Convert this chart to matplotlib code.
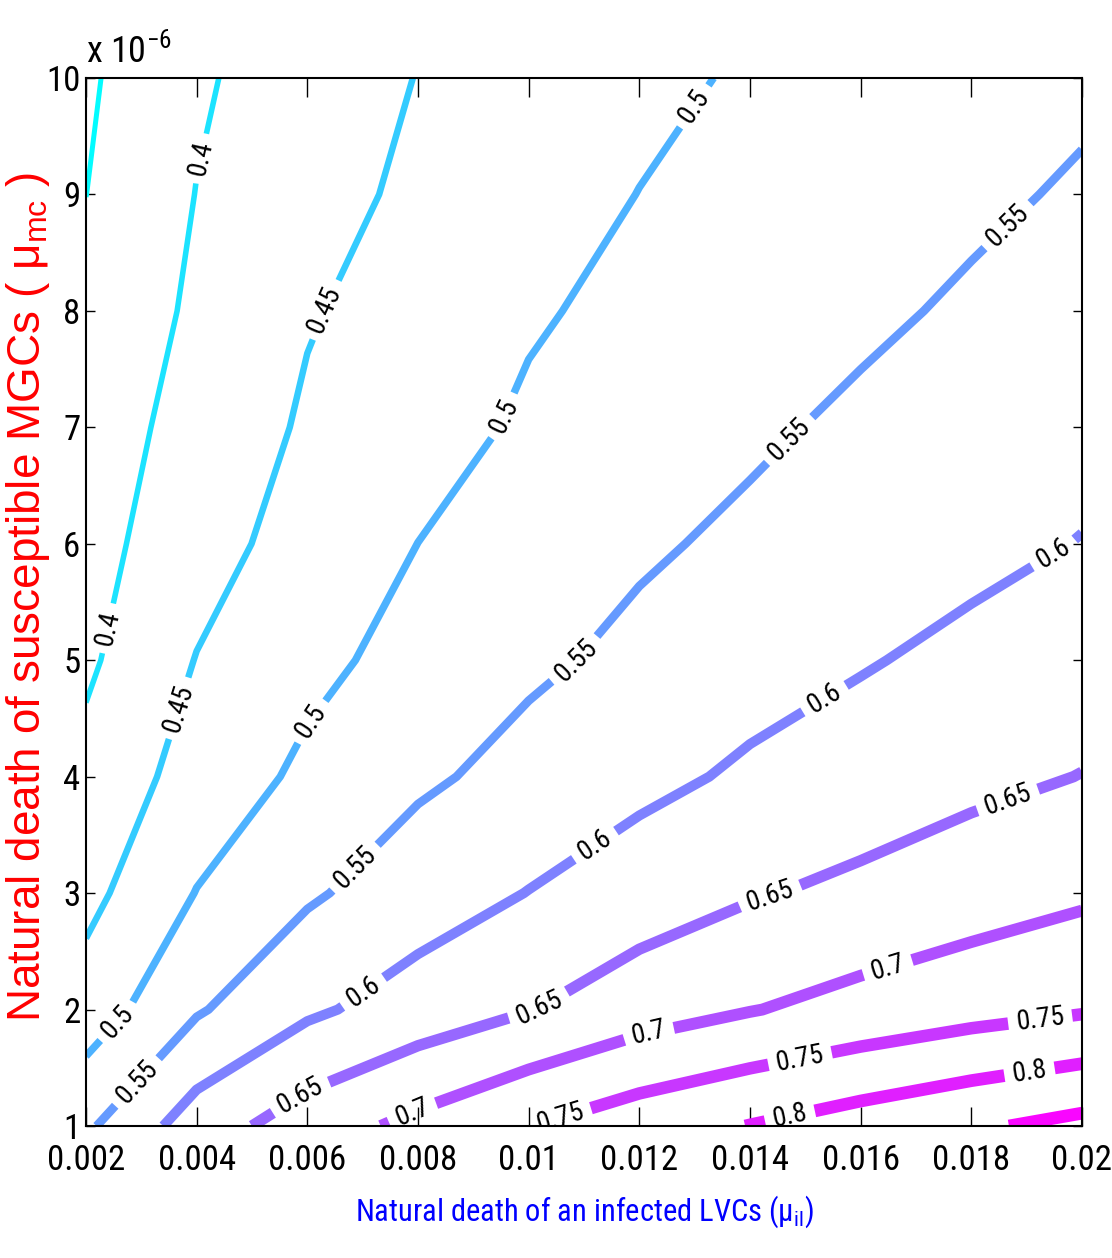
import matplotlib
matplotlib.use('Agg')
import matplotlib.pyplot as plt
from matplotlib.ticker import FuncFormatter
import numpy as np

narrow = ['Roboto Condensed', 'Liberation Sans Narrow', 'DejaVu Sans Condensed',
          'Open Sans Condensed', 'Liberation Sans', 'DejaVu Sans']
plt.rcParams['font.family'] = narrow
plt.rcParams['font.stretch'] = 'condensed'
plt.rcParams['mathtext.fontset'] = 'custom'
plt.rcParams['mathtext.rm'] = narrow[0]

# natural death of an infected LVC (x axis)
mu_il = [0.002, 0.004, 0.006, 0.008, 0.010, 0.012, 0.014, 0.016, 0.018, 0.020]
# natural death of susceptible MGCs (y axis)
mu_mc = [1e-6, 2e-6, 3e-6, 4e-6, 5e-6, 6e-6, 7e-6, 8e-6, 9e-6, 10e-6]

# one row per mu_mc value, one column per mu_il value
z_mc1 = [0.542, 0.625, 0.675, 0.7127, 0.749, 0.778, 0.801, 0.823, 0.8433, 0.863]
z_mc2 = [0.472, 0.545, 0.5917, 0.6218, 0.648, 0.678, 0.698, 0.716, 0.7322, 0.7453]
z_mc3 = [0.436, 0.5015, 0.5434, 0.576, 0.6011, 0.624, 0.6458, 0.661, 0.6767, 0.692]
z_mc4 = [0.414, 0.470, 0.5097, 0.542, 0.565, 0.588, 0.607, 0.6215, 0.638, 0.651]
z_mc5 = [0.392, 0.4516, 0.4877, 0.516, 0.542, 0.5605, 0.582, 0.5965, 0.6113, 0.6255]
z_mc6 = [0.382, 0.4312, 0.4691, 0.5002, 0.5207, 0.544, 0.5584, 0.573, 0.588, 0.6015]
z_mc7 = [0.375, 0.4176, 0.4561, 0.4827, 0.5063, 0.5242, 0.543, 0.5579, 0.572, 0.585]
z_mc8 = [0.364, 0.4077, 0.4465, 0.4694, 0.4955, 0.5102, 0.5258, 0.542, 0.556, 0.5695]
z_mc9 = [0.3497, 0.401, 0.4326, 0.4594, 0.4802, 0.5007, 0.5143, 0.528, 0.542, 0.555]
z_mc10 = [0.343, 0.3942, 0.4231, 0.4513, 0.4697, 0.489, 0.5054, 0.521, 0.534, 0.542]

levels = [0.35, 0.40, 0.45, 0.50, 0.55, 0.60, 0.65, 0.70, 0.75, 0.80, 0.85]

# where the inline labels go (mu_il, mu_mc in units of 1e-6)
label_spots = [
    (0.00234, 5.28), (0.00406, 9.31),
    (0.00366, 4.59), (0.00632, 8.01),
    (0.00258, 1.89), (0.00599, 4.50), (0.00948, 7.11), (0.01295, 9.77),
    (0.00294, 1.37), (0.00686, 3.22), (0.01080, 5.03), (0.01472, 6.89), (0.01870, 8.71),
    (0.00704, 2.13), (0.01120, 3.41), (0.01536, 4.66), (0.01951, 5.90),
    (0.00587, 1.26), (0.01011, 2.08), (0.01440, 2.92), (0.01866, 3.80),
    (0.00786, 1.16), (0.01219, 1.76), (0.01649, 2.36),
    (0.01057, 1.07), (0.01490, 1.59), (0.01924, 1.93),
    (0.01472, 1.09), (0.01906, 1.44),
]

line_widths = [3.6, 4.0, 4.7, 5.4, 6.3, 7.3, 8.2, 8.6, 9.0, 9.2, 9.2]

Z = np.array([z_mc1, z_mc2, z_mc3, z_mc4, z_mc5, z_mc6, z_mc7, z_mc8, z_mc9, z_mc10])
X, Y = np.meshgrid(mu_il, mu_mc)

fig = plt.figure(figsize=(11.12, 12.58), dpi=100)
ax = fig.add_axes([0.0773, 0.1049, 0.8957, 0.8331])

cs = ax.contour(X, Y, Z, levels=levels, cmap='cool', vmin=Z.min(), vmax=Z.max(),
                linewidths=line_widths)
ax.clabel(cs, fmt='%g', fontsize=20, colors='k', inline=True, inline_spacing=8,
          manual=[(sx, sy * 1e-6) for sx, sy in label_spots])

ax.set_xlim(0.002, 0.02)
ax.set_ylim(1e-6, 1e-5)
ax.set_xticks(mu_il)
ax.set_yticks(mu_mc)
ax.xaxis.set_major_formatter(FuncFormatter(lambda v, p: '%g' % round(v, 6)))
ax.yaxis.set_major_formatter(FuncFormatter(lambda v, p: '%g' % round(v * 1e6, 4)))

ax.tick_params(axis='x', direction='in', top=True, length=13.5, width=1, labelsize=25, pad=13)
ax.tick_params(axis='y', direction='in', right=True, length=6.5, width=1, labelsize=25, pad=4)
for sp in ax.spines.values():
    sp.set_linewidth(1.5)

ax.text(0.0, 1.015, r'x 10$^{\mathregular{-6}}$', transform=ax.transAxes,
        ha='left', va='baseline', fontsize=26)

ax.set_xlabel(r'Natural death of an infected LVCs ($\mathregular{\mu_{il}}$)',
              color='blue', fontsize=22, labelpad=12)
ax.set_ylabel(r'Natural death of susceptible MGCs ( $\mathregular{\mu_{mc}}$ )',
              color='red', fontsize=33, family=['Liberation Sans', 'DejaVu Sans'],
              stretch='normal')
ax.yaxis.set_label_coords(-0.034, 0.505)

fig.savefig('out.png', dpi=100)
